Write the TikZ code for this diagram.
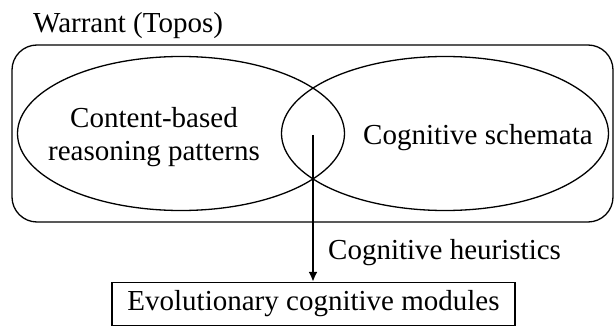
\documentclass[tikz,border=0pt]{standalone}
\usepackage{fontspec}
\setmainfont{Liberation Serif}
\usetikzlibrary{positioning, shapes.geometric, arrows.meta}

\begin{document}
\begin{tikzpicture}[x=1pt, y=-1pt,
frame/.style={rectangle, draw, line width=1.3pt, rounded corners=25pt, minimum width=601pt, minimum height=177pt},
set/.style={ellipse, draw, line width=1.3pt, minimum width=327pt, minimum height=154pt, inner sep=0pt},
module/.style={rectangle, draw, line width=1.3pt, minimum width=403pt, minimum height=43pt, inner sep=0pt},
lbl/.style={font=\fontsize{29}{33}\selectfont, align=center, inner sep=0pt}]
    \useasboundingbox (0,0) rectangle (614,326);

    \node[frame](warrant) at (312.5,133.5) {};
    \node[lbl, anchor=base west](title) at (33,33) {Warrant (Topos)};

    \node[set](content) at (181,133.5) {};
    \node[set](schema) at (445,133.5) {};
    \node[lbl](reason) at (154,137) {Content-based\\reasoning patterns};
    \node[lbl, anchor=base west](cogsch) at (363,145) {Cognitive schemata};

    \coordinate (hub) at (313,135);
    \node[module, lbl, draw](evo) at (313.5,304) {Evolutionary cognitive modules};
    \draw[line width=2.3pt, -{Latex[length=10pt, width=9pt]}] (hub) -- (evo.north -| hub);
    \node[lbl, anchor=base west](heur) at (328,260) {Cognitive heuristics};
\end{tikzpicture}
\end{document}
